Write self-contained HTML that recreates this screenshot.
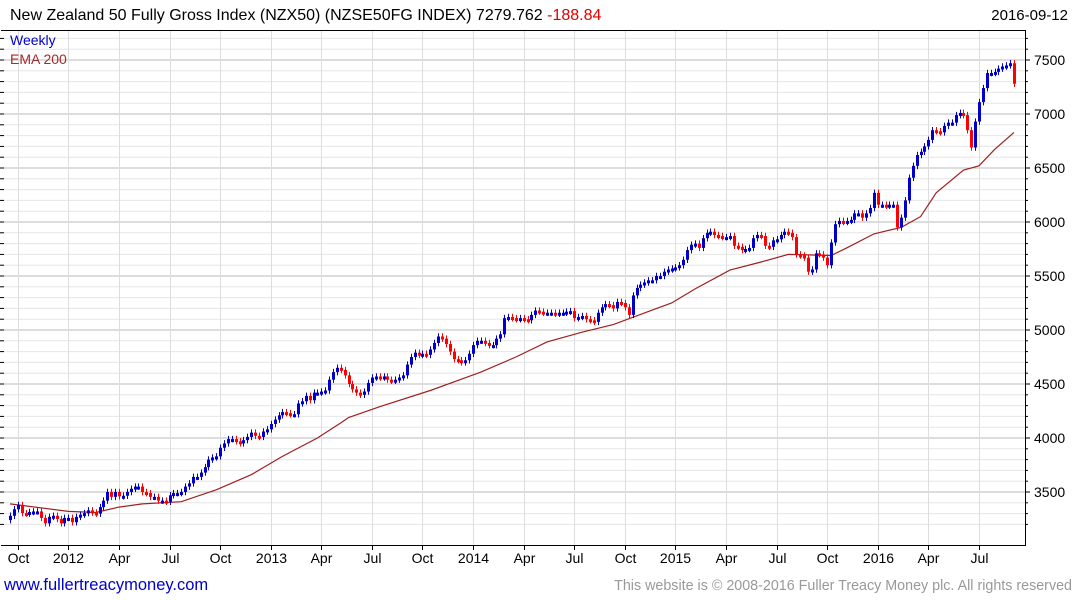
<!DOCTYPE html>
<html><head><meta charset="utf-8">
<style>
body{margin:0;background:#fff;width:1075px;height:600px;overflow:hidden;font-family:"Liberation Sans","DejaVu Sans",sans-serif;}
svg{position:absolute;left:0;top:0}
</style></head>
<body>
<svg id="chart" width="1075" height="600" xmlns="http://www.w3.org/2000/svg">
<text x="10" y="20" font-size="16" fill="#000">New Zealand 50 Fully Gross Index (NZX50) (NZSE50FG INDEX) 7279.762 <tspan fill="#e00000">-188.84</tspan></text>
<text x="1068" y="20" font-size="15" fill="#000" text-anchor="end">2016-09-12</text>
<g id="grid"></g>
<g id="ema"></g>
<g id="bars"></g>
<g id="axes"></g>
<text x="10" y="45" font-size="14" fill="#0000cc">Weekly</text>
<text x="10" y="64" font-size="14" fill="#a52a2a">EMA 200</text>
<text x="4" y="590" font-size="16.5" fill="#0000cc">www.fullertreacymoney.com</text>
<text x="1072" y="590" font-size="14.3" fill="#999" text-anchor="end">This website is © 2008-2016 Fuller Treacy Money plc. All rights reserved</text>
</svg>
<script>
const closes=[3280,3340,3380,3305,3300,3315,3320,3320,3260,3210,
3270,3280,3250,3210,3260,3260,3220,3270,3290,3305,
3330,3310,3300,3360,3420,3500,3455,3500,3460,3465,
3500,3530,3550,3550,3500,3490,3455,3455,3420,3420,
3410,3470,3490,3490,3500,3550,3580,3640,3640,3680,
3730,3800,3820,3830,3910,3950,3990,3990,3970,3950,
3980,4010,4050,4020,4010,4060,4080,4130,4170,4210,
4240,4230,4220,4220,4320,4340,4390,4350,4420,4420,
4430,4440,4540,4610,4650,
4630,4580,4500,4450,4420,4400,4430,4510,4560,4570,
4560,4570,4540,4530,4540,4560,4580,4680,4750,4790,
4770,4780,4770,4820,4880,4940,4920,4870,4800,4730,
4720,4700,4720,4780,4860,4900,4900,4880,4860,4860,
4920,4960,5110,5120,5110,5100,5110,5100,5090,5140,
5180,5170,5160,5160,5160,5150,5160,5160,5170,5175,
5110,5120,5130,5100,5090,5075,5160,5210,5240,5230,
5200,5260,5250,5210,5140,5320,5390,5420,5440,5460,
5460,5500,5500,5540,5560,
5570,5580,5600,5650,5740,5790,5800,5760,5850,5900,
5910,5880,5870,5860,5860,5870,5780,5770,5740,5750,
5760,5850,5880,5870,5780,5770,5830,5840,5880,5910,
5900,5860,5700,5690,5670,5540,5560,5710,5700,5670,
5600,5810,5980,6010,6000,6010,6020,6080,6080,6040,
6080,6130,6270,6160,6160,6150,6160,6160,5950,6040,
6200,6410,6520,6620,6650,6700,6760,6850,6840,6830,
6890,6920,6920,6990,7010,6990,6850,6690,6930,7110,
7240,7380,7380,7390,7420,7440,7450,7470,7280];
const firstOpen=3240;
const emaWeeks=[0,15,22,28,34,44,53,62,70,79,85,87,95,108,121,130,138,147,155,164,170,176,185,193,200,211,215,222,229,234,238,245,249,253,258];
const emaValues=[3390,3320,3310,3360,3390,3410,3520,3660,3830,4000,4140,4190,4290,4440,4610,4750,4890,4980,5050,5170,5250,5380,5555,5630,5700,5690,5760,5890,5950,6050,6270,6480,6520,6670,6830];
const yTicks=[3500,4000,4500,5000,5500,6000,6500,7000,7500];
const xLabels=["Oct","2012","Apr","Jul","Oct","2013","Apr","Jul","Oct","2014","Apr","Jul","Oct","2015","Apr","Jul","Oct","2016","Apr","Jul"];
const xLabelWeeks=[2,15,28,41,54,67,80,93,106,119,132,145,158,171,184,197,210,223,236,249];

const NS="http://www.w3.org/2000/svg";
const L=1,R=1025,T=30,B=545;
const N=closes.length;
const step=(1014-10)/(N-1);
function xs(i){return 10+i*step;}
function ys(v){return 60+(7500-v)*0.108;}
function mk(tag,attrs,parent){const e=document.createElementNS(NS,tag);for(const k in attrs)e.setAttribute(k,attrs[k]);parent.appendChild(e);return e;}
const grid=document.getElementById('grid'),axes=document.getElementById('axes'),bars=document.getElementById('bars'),emaG=document.getElementById('ema');
for(let v=3200;v<=7700;v+=100){const y=ys(v);if(y<T||y>B)continue;
 const major=v%500===0;
 const ln=mk('line',{x1:L,x2:R,y1:y,y2:y,stroke:major?'#bbbbbb':'#e6e6e6','stroke-width':1},grid);
 
 
 const tk=mk('line',{x1:0,x2:4,y1:y,y2:y,stroke:'#000'},axes);
 
 
 const tr=mk('line',{x1:R,x2:R+(major?5:3),y1:y,y2:y,stroke:'#000'},axes);
 
 
}
yTicks.forEach(v=>{const t=mk('text',{x:R+9,y:ys(v)+5,'font-size':14,fill:'#000'},axes);t.textContent=v;
 
 });
xLabelWeeks.forEach((w,k)=>{const x=Math.round(xs(w))+0.5;
 const g=mk('line',{x1:x,x2:x,y1:T,y2:B,stroke:'#dddddd'},grid);
 
 
 const tk=mk('line',{x1:x,x2:x,y1:B,y2:B+5,stroke:'#000'},axes);
 
 
 const t=mk('text',{x:x,y:B+18,'font-size':14,fill:'#000','text-anchor':'middle'},axes);t.textContent=xLabels[k];
 
 });
const frame=mk('path',{d:`M${L},${T}.5H${R}.5V${B}.5H${L}`,fill:'none',stroke:'#000'},axes);


let d='';emaWeeks.forEach((w,k)=>{d+=(k?'L':'M')+xs(w).toFixed(1)+','+ys(emaValues[k]).toFixed(1);});
const ep=mk('path',{d:d,fill:'none',stroke:'#a02020','stroke-width':1.2},emaG);


closes.forEach((c,i)=>{const o=i?closes[i-1]:firstOpen;const up=c>=o;const col=up?'#0000cc':'#ff0000';
 const x=Math.round(xs(i));const hi=Math.max(o,c)+30,lo=Math.min(o,c)-30;
 const g=mk('g',{},bars);
 
 
 mk('line',{x1:x+0.5,x2:x+0.5,y1:ys(hi),y2:ys(lo),stroke:col},g);
 const top=ys(Math.max(o,c)),h=Math.max(3,ys(Math.min(o,c))-top);
 mk('rect',{x:x-1,y:top,width:3,height:h,fill:col},g);
});
</script>
</body></html>
